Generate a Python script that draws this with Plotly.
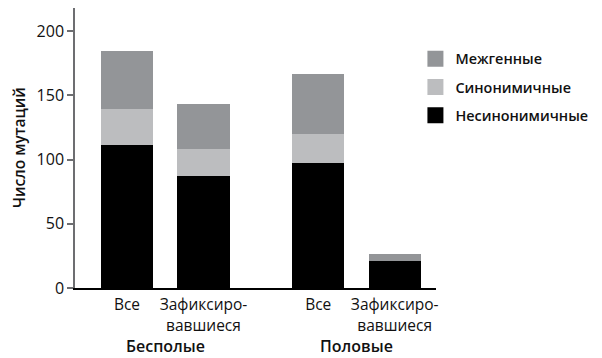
import plotly.graph_objects as go

# data
positions = [0, 1, 2.5, 3.5]
categories = ["Все", "Зафиксиро-<br>вавшиеся", "Все", "Зафиксиро-<br>вавшиеся"]
groups = ["Бесполые", "Половые"]
group_pos = [0.5, 3.0]
nonsyn = [111, 87, 97, 21]
syn = [28, 21, 23, 0]
intergenic = [45.5, 35, 47, 5.5]

series = [
    ("Несинонимичные", nonsyn, "#000000"),
    ("Синонимичные", syn, "#bcbdbf"),
    ("Межгенные", intergenic, "#939598"),
]

FONT = "Open Sans"
L, R, T, B = 67, 174, 0, 78
fig = go.Figure()
for name, vals, col in series:
    fig.add_trace(go.Bar(x=positions, y=vals, name=name, width=0.68,
                         marker=dict(color=col, line=dict(width=0)),
                         showlegend=False))

# legend entries (top to bottom)
for i, (name, vals, col) in enumerate(reversed(series)):
    fig.add_trace(go.Scatter(x=[None], y=[None], mode="markers", name=name,
                             legendgroup=str(i),
                             marker=dict(symbol="square", size=17, color=col,
                                         line=dict(width=0))))

for g, gp in zip(groups, group_pos):
    fig.add_annotation(x=gp, y=0, xref="x", yref="paper", yshift=-58,
                       yanchor="middle", text=g, showarrow=False,
                       font=dict(family=FONT, size=16, color="#111", weight=600))

fig.update_layout(
    width=602, height=358,
    margin=dict(l=L, r=R, t=T, b=B),
    barmode="stack", bargap=0,
    plot_bgcolor="white", paper_bgcolor="white",
    font=dict(family=FONT, size=15, color="#222"),
    legend=dict(x=0.943, xanchor="left", y=0.875, yanchor="top",
                traceorder="grouped", tracegroupgap=6.5,
                font=dict(family=FONT, size=14.4, color="#111", weight=600),
                bgcolor="rgba(0,0,0,0)"),
    xaxis=dict(range=[-0.68, 4.04], tickvals=positions, ticktext=categories,
               showline=True, linecolor="#000", linewidth=1.5, ticks="",
               showgrid=False, zeroline=False, automargin=False,
               ticklabelstandoff=2,
               tickfont=dict(family=FONT, size=15.5, color="#111")),
    yaxis=dict(range=[0, 218], tickvals=[0, 50, 100, 150, 200],
               showline=True, linecolor="#6d6e71", linewidth=1.5,
               ticks="outside", ticklen=6, tickcolor="#6d6e71", tickwidth=1.5,
               showgrid=False, zeroline=False, automargin=False,
               tickfont=dict(family=FONT, size=16, color="#111")),
)
fig.add_annotation(x=(11 - L) / (602 - L - R), xref="paper", y=0.5, yref="paper",
                   text="Число мутаций", showarrow=False, textangle=-90,
                   xanchor="center", yanchor="middle",
                   font=dict(family=FONT, size=15.5, color="#111", weight=600))

fig.write_html("out.html")
